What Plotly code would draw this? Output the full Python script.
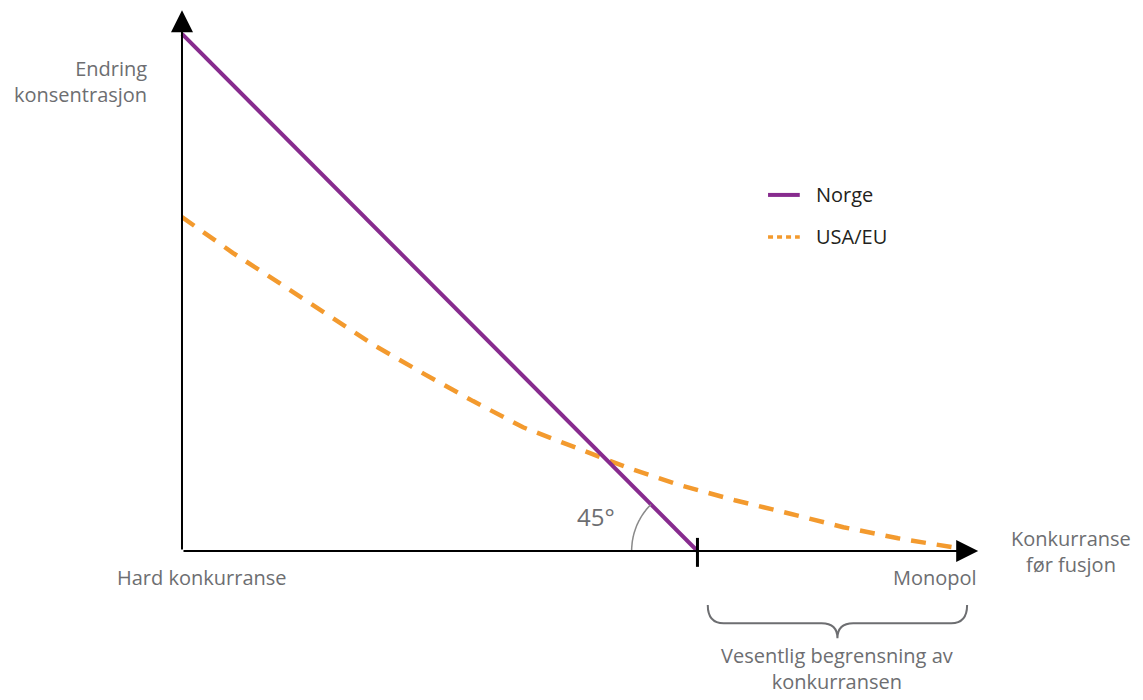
import math
import plotly.graph_objects as go

# ---- data (conceptual units: competition before merger 0..1, change in concentration) ----
norge_x = [0.0, 0.65]
norge_y = [0.652, 0.0]

usa_x = [0.0, 0.064, 0.124, 0.184, 0.243, 0.304, 0.367, 0.430, 0.496, 0.562,
         0.628, 0.697, 0.767, 0.834, 0.903, 0.972, 0.994]
usa_y = [0.421, 0.376, 0.337, 0.298, 0.259, 0.224, 0.189, 0.156, 0.130, 0.105,
         0.083, 0.064, 0.047, 0.030, 0.016, 0.004, 0.001]

series_names = ["Norge", "USA/EU"]
threshold_x = 0.65
x_label_left = "Hard konkurranse"
x_label_right = "Monopol"
x_axis_title = "Konkurranse<br>før fusjon"
y_axis_title = "Endring<br>konsentrasjon"
brace_label = "Vesentlig begrensning av<br>konkurransen"
angle_label = "45°"

PURPLE = "#872B8E"
ORANGE = "#F39A2E"
GREY = "#6d6e71"
DARK = "#231f20"
FONT = "Open Sans"

fig = go.Figure()

fig.add_trace(go.Scatter(x=usa_x, y=usa_y, mode="lines", name=series_names[1],
                         line=dict(color=ORANGE, width=4.5, dash="15px,11px"),
                         showlegend=False, hoverinfo="skip"))
fig.add_trace(go.Scatter(x=norge_x, y=norge_y, mode="lines", name=series_names[0],
                         line=dict(color=PURPLE, width=4),
                         showlegend=False, hoverinfo="skip"))

x_tip = 1.004
y_tip = 0.682
ann = []
# axes with arrows
ann.append(dict(x=0, y=y_tip, ax=0, ay=0, xref="x", yref="y", axref="x", ayref="y",
                showarrow=True, arrowhead=2, arrowsize=2.2, arrowwidth=2,
                arrowcolor="black", standoff=0, text=""))
ann.append(dict(x=x_tip, y=0, ax=0, ay=0, xref="x", yref="y", axref="x", ayref="y",
                showarrow=True, arrowhead=2, arrowsize=2.2, arrowwidth=2,
                arrowcolor="black", standoff=0, text=""))

lab = dict(family=FONT, size=20, color=GREY)
ann += [
    dict(x=-0.041, y=0.592, xref="x", yref="y", text=y_axis_title, showarrow=False,
         xanchor="right", yanchor="middle", align="right", font=lab),
    dict(x=0.025, y=-0.034, xref="x", yref="y", text=x_label_left, showarrow=False,
         xanchor="center", yanchor="middle", font=lab),
    dict(x=1.005, y=-0.034, xref="x", yref="y", text=x_label_right, showarrow=False,
         xanchor="right", yanchor="middle", font=lab),
    dict(x=1.121, y=-0.001, xref="x", yref="y", text=x_axis_title, showarrow=False,
         xanchor="center", yanchor="middle", align="center", font=lab),
    dict(x=0.826, y=-0.148, xref="x", yref="y", text=brace_label, showarrow=False,
         xanchor="center", yanchor="middle", align="center", font=lab),
    dict(x=0.522, y=0.043, xref="x", yref="y", text=angle_label, showarrow=False,
         xanchor="center", yanchor="middle", font=dict(family=FONT, size=24, color=GREY)),
]

# legend (manual)
leg_x0, leg_x1 = 0.739, 0.779
leg_y = [0.449, 0.396]
ann += [
    dict(x=0.797, y=leg_y[0], xref="x", yref="y", text=series_names[0], showarrow=False,
         xanchor="left", yanchor="middle", font=dict(family=FONT, size=20, color=DARK)),
    dict(x=0.797, y=leg_y[1], xref="x", yref="y", text=series_names[1], showarrow=False,
         xanchor="left", yanchor="middle", font=dict(family=FONT, size=20, color=DARK)),
]

shapes = [
    dict(type="line", x0=leg_x0, x1=leg_x1, y0=leg_y[0], y1=leg_y[0], xref="x", yref="y",
         line=dict(color=PURPLE, width=4)),
    dict(type="line", x0=leg_x0, x1=leg_x1, y0=leg_y[1], y1=leg_y[1], xref="x", yref="y",
         line=dict(color=ORANGE, width=3.5, dash="5px,4px")),
    # threshold tick
    dict(type="line", x0=threshold_x, x1=threshold_x, y0=-0.020, y1=0.0165, xref="x", yref="y",
         line=dict(color="black", width=3)),
]

# 45 degree arc
r = 0.083
pts = []
for i in range(0, 31):
    a = math.radians(135 + 45 * i / 30)
    pts.append((threshold_x + r * math.cos(a), r * math.sin(a)))
path = "M " + " L ".join(f"{px:.4f},{py:.4f}" for px, py in pts)
shapes.append(dict(type="path", path=path, xref="x", yref="y",
                   line=dict(color="#8a8a8a", width=1.5)))

# curly brace
bx0, bx1 = 0.663, 0.990
bxm = (bx0 + bx1) / 2
by_top, by_mid, by_tip = -0.068, -0.091, -0.110
rr = 0.02
brace = (f"M {bx0},{by_top} Q {bx0},{by_mid} {bx0 + rr},{by_mid} "
         f"L {bxm - rr},{by_mid} Q {bxm},{by_mid} {bxm},{by_tip} "
         f"Q {bxm},{by_mid} {bxm + rr},{by_mid} "
         f"L {bx1 - rr},{by_mid} Q {bx1},{by_mid} {bx1},{by_top}")
shapes.append(dict(type="path", path=brace, xref="x", yref="y",
                   line=dict(color=GREY, width=2)))

# ranges compensate for the page's 8px body margin
fig.update_layout(
    width=1143, height=700,
    margin=dict(l=0, r=0, t=0, b=0),
    paper_bgcolor="white", plot_bgcolor="white",
    xaxis=dict(range=[-0.2194, 1.2219], visible=False, fixedrange=True),
    yaxis=dict(range=[-0.1980, 0.6847], visible=False, fixedrange=True),
    annotations=ann, shapes=shapes, showlegend=False,
)

fig.write_html("out.html")
